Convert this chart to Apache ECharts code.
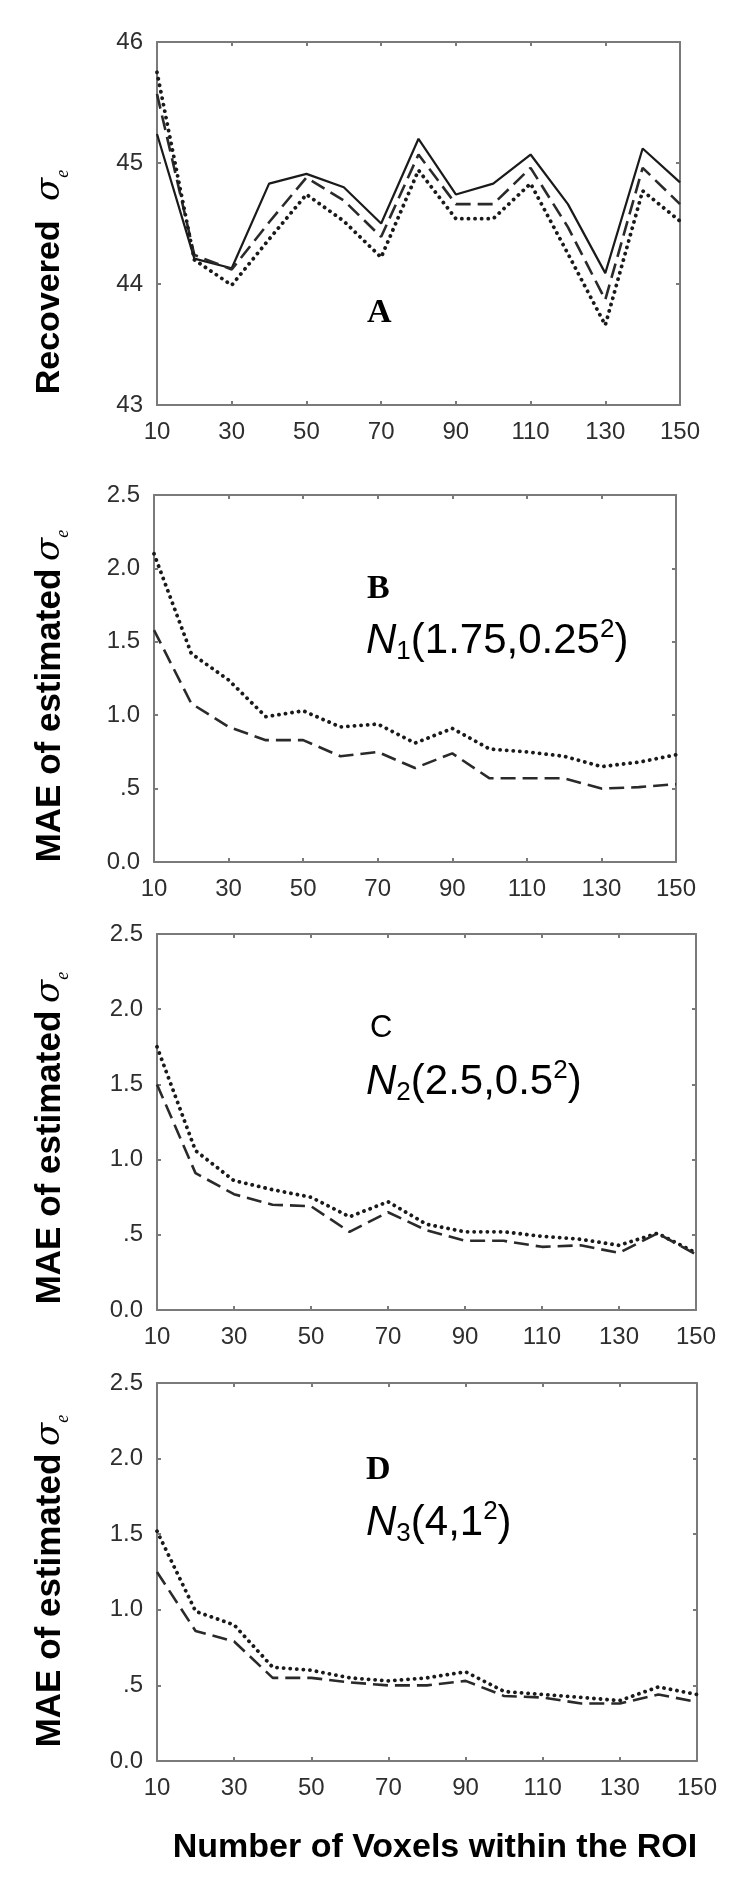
<!DOCTYPE html>
<html><head><meta charset="utf-8">
<script src="https://cdn.jsdelivr.net/npm/echarts@6/dist/echarts.min.js"></script>
<style>html,body{margin:0;padding:0;background:#fff}#c{width:750px;height:1902px}</style>
</head><body><div id="c"></div>
<script>
// ---- data ----
const voxels = [10,20,30,40,50,60,70,80,90,100,110,120,130,140,150];
const xTickLabels = ['10','30','50','70','90','110','130','150'];
const aYTickLabels = ['43','44','45','46'];
const maeYTickLabels = ['0.0','.5','1.0','1.5','2.0','2.5'];

const aSolid  = [45.24,44.21,44.13,44.83,44.91,44.80,44.50,45.20,44.74,44.83,45.07,44.66,44.09,45.12,44.84];
const aDashed = [45.57,44.24,44.12,44.51,44.88,44.69,44.39,45.07,44.66,44.66,44.96,44.47,43.87,44.96,44.66];
const aDotted = [45.75,44.20,43.99,44.37,44.74,44.52,44.22,44.94,44.54,44.54,44.83,44.25,43.66,44.77,44.52];

const bDotted = [2.10,1.42,1.24,0.99,1.03,0.92,0.94,0.81,0.91,0.77,0.75,0.72,0.65,0.68,0.73];
const bDashed = [1.58,1.08,0.92,0.83,0.83,0.72,0.75,0.64,0.74,0.57,0.57,0.57,0.50,0.51,0.53];

const cDotted = [1.75,1.06,0.86,0.80,0.75,0.62,0.72,0.57,0.52,0.52,0.49,0.47,0.43,0.51,0.38];
const cDashed = [1.50,0.91,0.77,0.70,0.69,0.52,0.65,0.53,0.46,0.46,0.42,0.43,0.38,0.51,0.37];

const dDotted = [1.52,0.99,0.90,0.62,0.60,0.55,0.53,0.55,0.59,0.46,0.44,0.42,0.40,0.49,0.44];
const dDashed = [1.25,0.86,0.79,0.55,0.55,0.52,0.50,0.50,0.53,0.43,0.42,0.38,0.38,0.44,0.39];

// ---- layout ----
const grids = [
  {left:157, top:42,   width:523, height:363},
  {left:154, top:495,  width:522, height:367},
  {left:157, top:934,  width:539, height:376},
  {left:157, top:1383, width:540, height:378}
];
const yRanges = [
  {min:43, max:46, interval:1, labels:aYTickLabels, base:43, step:1},
  {min:0, max:2.5, interval:0.5, labels:maeYTickLabels, base:0, step:0.5},
  {min:0, max:2.5, interval:0.5, labels:maeYTickLabels, base:0, step:0.5},
  {min:0, max:2.5, interval:0.5, labels:maeYTickLabels, base:0, step:0.5}
];
const panelSeries = [
  [['solid', aSolid], ['dashed', aDashed], ['dotted', aDotted]],
  [['dotted', bDotted], ['dashed', bDashed]],
  [['dotted', cDotted], ['dashed', cDashed]],
  [['dotted', dDotted], ['dashed', dDashed]]
];

const AX = '#7a7a7a';
const labelFont = {color:'#2e2e2e', fontSize:24, fontFamily:'Liberation Sans'};
const lineStyles = {
  solid:  {type:'solid', width:2.2, color:'#1a1a1a'},
  dashed: {type:[15,7], width:2.6, color:'#2a2a2a'},
  dotted: {type:[0.1,6.5], width:3.8, color:'#1a1a1a', cap:'round'}
};

const xAxis = [], yAxis = [], series = [];
grids.forEach((g, i) => {
  const r = yRanges[i];
  xAxis.push({type:'value', gridIndex:i, min:10, max:150, interval:20, position:'bottom',
    axisLine:{show:true, onZero:false, lineStyle:{color:AX, width:2}},
    axisTick:{show:true, inside:true, length:4, lineStyle:{color:AX, width:2}},
    axisLabel:Object.assign({margin:15, formatter:v => xTickLabels[Math.round((v-10)/20)]}, labelFont),
    splitLine:{show:false}});
  xAxis.push({type:'value', gridIndex:i, min:10, max:150, interval:20, position:'top',
    axisLine:{show:true, onZero:false, lineStyle:{color:AX, width:2}},
    axisTick:{show:true, inside:true, length:4, lineStyle:{color:AX, width:2}},
    axisLabel:{show:false}, splitLine:{show:false}});
  yAxis.push({type:'value', gridIndex:i, min:r.min, max:r.max, interval:r.interval, position:'left',
    axisLine:{show:true, onZero:false, lineStyle:{color:AX, width:2}},
    axisTick:{show:true, inside:true, length:4, lineStyle:{color:AX, width:2}},
    axisLabel:Object.assign({margin:14, formatter:v => r.labels[Math.round((v-r.base)/r.step)]}, labelFont),
    splitLine:{show:false}});
  yAxis.push({type:'value', gridIndex:i, min:r.min, max:r.max, interval:r.interval, position:'right',
    axisLine:{show:true, onZero:false, lineStyle:{color:AX, width:2}},
    axisTick:{show:true, inside:true, length:4, lineStyle:{color:AX, width:2}},
    axisLabel:{show:false}, splitLine:{show:false}});
  panelSeries[i].forEach(([kind, arr]) => {
    series.push({type:'line', xAxisIndex:2*i, yAxisIndex:2*i, symbol:'none', silent:true,
      data: voxels.map((v, k) => [v, arr[k]]), lineStyle: lineStyles[kind]});
  });
});

// ---- texts ----
function titleRich(size) {
  return {
    t:{fontSize:size, fontWeight:'bold', fontFamily:'Liberation Sans', fill:'#000', lineHeight:44},
    g:{fontSize:14, lineHeight:44},
    s:{fontSize:34, fontStyle:'italic', fontFamily:'DejaVu Serif', fill:'#000', lineHeight:44},
    e:{fontSize:18, fontStyle:'italic', fontFamily:'Liberation Serif', fill:'#000', lineHeight:18, verticalAlign:'bottom'}
  };
}
function yTitle(x, y, words, gap, size) {
  return {type:'text', x:x, y:y, rotation:Math.PI/2, silent:true,
    style:{text:'{t|' + words + '}{g|' + gap + '}{s|σ}{e|e}', rich:titleRich(size), align:'center', verticalAlign:'middle'}};
}
const nRich = {
  n:{fontSize:42, fontStyle:'italic', fontFamily:'Liberation Sans', fill:'#000', lineHeight:48},
  sb:{fontSize:26, fontFamily:'Liberation Sans', fill:'#000', lineHeight:26, verticalAlign:'bottom'},
  m:{fontSize:42, fontFamily:'Liberation Sans', fill:'#000', lineHeight:48},
  sp:{fontSize:26, fontFamily:'Liberation Sans', fill:'#000', lineHeight:26, verticalAlign:'top'}
};
function nText(x, y, sub, a, sup) {
  return {type:'text', x:x, y:y, silent:true,
    style:{text:'{n|N}{sb|' + sub + '}{m|(' + a + '}{sp|' + sup + '}{m|)}', rich:nRich, align:'left', verticalAlign:'middle'}};
}
function letter(x, y, ch, serif, size) {
  return {type:'text', x:x, y:y, silent:true,
    style:{text:ch, fill:'#000', font:(serif ? 'bold ' : '') + size + 'px ' + (serif ? '"Liberation Serif"' : '"Liberation Sans"'),
      align:'left', verticalAlign:'middle'}};
}

const graphic = [
  yTitle(50, 282, 'Recovered', '     ', 34),
  yTitle(50, 696, 'MAE of estimated', '  ', 35),
  yTitle(50, 1138, 'MAE of estimated', '  ', 35),
  yTitle(50, 1581, 'MAE of estimated', '  ', 35),
  letter(367, 313, 'A', true, 34),
  letter(367, 589, 'B', true, 34),
  nText(366, 641, '1', '1.75,0.25', '2'),
  letter(370, 1028, 'C', false, 31),
  nText(366, 1082, '2', '2.5,0.5', '2'),
  letter(366, 1470, 'D', true, 34),
  nText(366, 1523, '3', '4,1', '2'),
  {type:'text', x:435, y:1848, silent:true,
    style:{text:'Number of Voxels within the ROI', fill:'#000', font:'bold 34px "Liberation Sans"', align:'center', verticalAlign:'middle'}}
];

const chart = echarts.init(document.getElementById('c'), null, {renderer:'canvas'});
chart.setOption({
  animation:false,
  backgroundColor:'#fff',
  grid: grids.map(g => Object.assign({containLabel:false}, g)),
  xAxis, yAxis, series, graphic
});
</script>
</body></html>
